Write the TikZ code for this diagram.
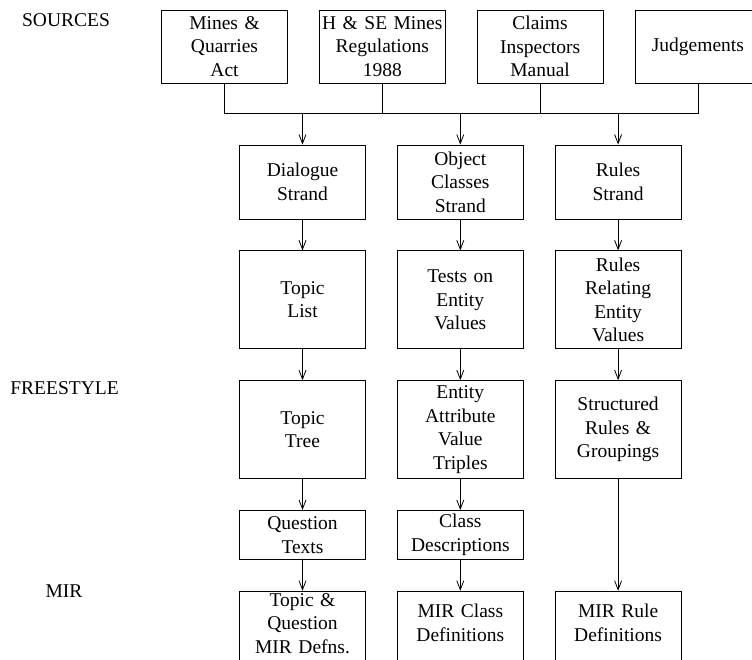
\documentclass[tikz,border=0pt]{standalone}
\usepackage{fontspec}
\setmainfont{Liberation Serif}
\usetikzlibrary{arrows.meta, positioning, calc}

\begin{document}
\begin{tikzpicture}[x=1pt, y=1pt, node distance=31pt, >={Straight Barb[length=9pt,width=7pt]},
    line width=0.8pt, font=\fontsize{19.5}{23.5}\selectfont,
    box/.style={draw, rectangle, text width=124pt, inner xsep=1pt, inner ysep=2pt, align=center, minimum width=126pt},
    side/.style={anchor=base}]
        \clip (0,0) rectangle (752,-659);

        % Side labels
        \node[side] (lsrc) at (66,-26) {SOURCES};
        \node[side] (lfree) at (64.5,-394) {FREESTYLE};
        \node[side] (lmir) at (64,-597) {MIR};

        % Sources
        \node[box, minimum height=73pt] (act) at (224.5,-46.5) {Mines \&\\ Quarries\\ Act};
        \node[box, minimum height=73pt, right=of act] (regs) {H \& SE Mines\\ Regulations\\ 1988};
        \node[box, minimum height=73pt, right=of regs] (manual) {Claims\\ Inspectors\\ Manual};
        \node[box, minimum height=73pt, right=of manual] (judge) {Judgements};

        % Strands
        \node[box, minimum height=74pt] (dial) at (302.5,-182) {Dialogue\\ Strand};
        \node[box, minimum height=74pt, right=of dial] (obj) {Object\\ Classes\\ Strand};
        \node[box, minimum height=74pt, right=of obj] (rules) {Rules\\ Strand};

        % Column 1
        \node[box, minimum height=98pt, below=of dial] (tlist) {Topic\\ List};
        \node[box, minimum height=98pt, below=of tlist] (ttree) {Topic\\ Tree};
        \node[box, minimum height=49pt, below=of ttree] (qtext) {Question\\ Texts};
        \node[box, minimum height=75pt, text depth=61pt, below=of qtext] (mirq) {Topic \&\\ Question\\ MIR Defns.};

        % Column 2
        \node[box, minimum height=98pt, below=of obj] (tests) {Tests on\\ Entity\\ Values};
        \node[box, minimum height=98pt, below=of tests] (eav) {Entity\\ Attribute\\ Value\\ Triples};
        \node[box, minimum height=49pt, below=of eav] (cdesc) {Class\\ Descriptions};
        \node[box, minimum height=75pt, text depth=35pt, below=of cdesc] (mirc) {MIR Class\\ Definitions};

        % Column 3
        \node[box, minimum height=98pt, below=of rules] (relate) {Rules\\ Relating\\ Entity\\ Values};
        \node[box, minimum height=98pt, below=of relate] (struct) {Structured\\ Rules \&\\ Groupings};
        \node[box, minimum height=75pt, text depth=35pt, right=of mirc] (mirr) {MIR Rule\\ Definitions};

        % Bus
        \coordinate (bus) at (0,-113);
        \draw (act.south) -- (act.south |- bus) -| (judge.south);
        \draw (regs.south) -- (regs.south |- bus);
        \draw (manual.south) -- (manual.south |- bus);
        \draw[->] (dial.north |- bus) -- (dial.north);
        \draw[->] (obj.north |- bus) -- (obj.north);
        \draw[->] (rules.north |- bus) -- (rules.north);

        % Connections
        \draw[->] (dial) -- (tlist);
        \draw[->] (tlist) -- (ttree);
        \draw[->] (ttree) -- (qtext);
        \draw[->] (qtext) -- (mirq);
        \draw[->] (obj) -- (tests);
        \draw[->] (tests) -- (eav);
        \draw[->] (eav) -- (cdesc);
        \draw[->] (cdesc) -- (mirc);
        \draw[->] (rules) -- (relate);
        \draw[->] (relate) -- (struct);
        \draw[->] (struct) -- (mirr);
    \end{tikzpicture}
\end{document}
